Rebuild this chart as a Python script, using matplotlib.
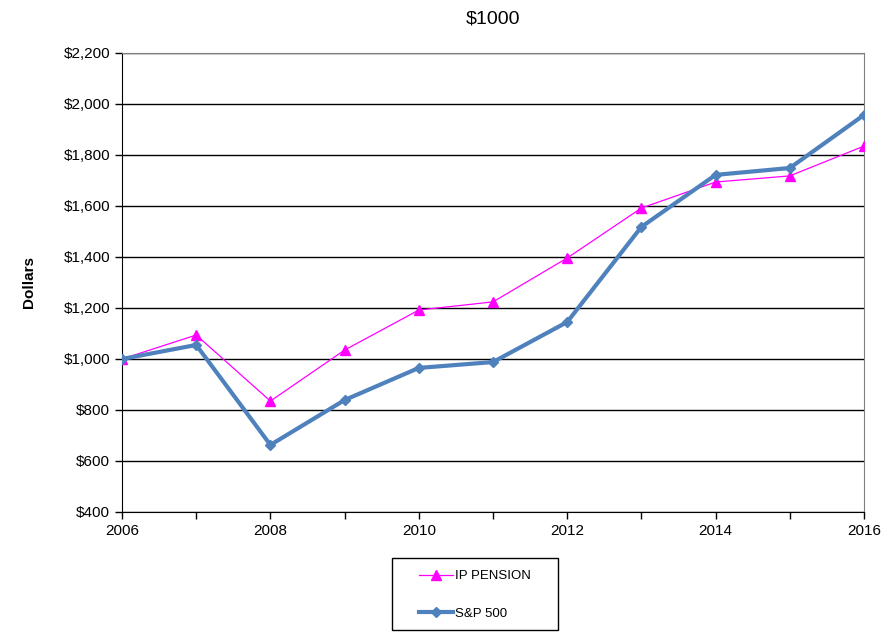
import numpy as np
import matplotlib.pyplot as plt
from matplotlib.patches import Rectangle
from matplotlib.ticker import FuncFormatter, MultipleLocator

plt.rcParams['font.family'] = ['Liberation Sans', 'DejaVu Sans']

years = [2006, 2007, 2008, 2009, 2010, 2011, 2012, 2013, 2014, 2015, 2016]
ip_pension = [1000, 1094, 835, 1035, 1192, 1224, 1396, 1592, 1694, 1718, 1835]
sp500 = [1000, 1055, 663, 839, 965, 988, 1145, 1518, 1722, 1749, 1957]

fig = plt.figure(figsize=(8.9, 6.44), dpi=100)
ax = fig.add_axes([122/890, 1-512/644, (864-122)/890, (512-53)/644])

ax.plot(years, ip_pension, color='#FF00FF', lw=0.9, marker='^', ms=6.5,
        label='IP PENSION', zorder=3)
ax.plot(years, sp500, color='#4F81BD', lw=3, marker='D', ms=5.5,
        label='S&P 500', zorder=4)

ax.set_xlim(2006, 2016)
ax.set_ylim(400, 2200)
ax.yaxis.set_major_locator(MultipleLocator(200))
ax.yaxis.set_major_formatter(FuncFormatter(lambda v, p: '${:,.0f}'.format(v)))
ax.xaxis.set_major_locator(MultipleLocator(2))
ax.xaxis.set_minor_locator(MultipleLocator(1))
ax.tick_params(axis='both', which='both', direction='out', labelsize=11,
               color='black', width=1)
ax.tick_params(axis='both', which='major', length=5)
ax.tick_params(axis='x', which='minor', length=5)
ax.grid(axis='y', color='black', lw=1)
ax.set_axisbelow(True)
for s in ['top', 'right']:
    ax.spines[s].set_color('#808080')
for s in ['left', 'bottom']:
    ax.spines[s].set_color('black')

ax.set_title('$1000', fontsize=14, pad=21)
ax.set_ylabel('Dollars', fontsize=11, fontweight='bold', labelpad=20)

# legend box drawn separately so its size matches the original
fig.patches.append(Rectangle((392/890, 14/644), 166/890, 72/644,
                             transform=fig.transFigure, fill=False,
                             ec='black', lw=1))
leg = fig.legend(loc='center', bbox_to_anchor=(475/890, 1-595/644),
                 fontsize=9.5, frameon=False, labelspacing=1.9,
                 handlelength=2.6, handletextpad=0.15, borderaxespad=0)

fig.savefig('out.png', dpi=100)
